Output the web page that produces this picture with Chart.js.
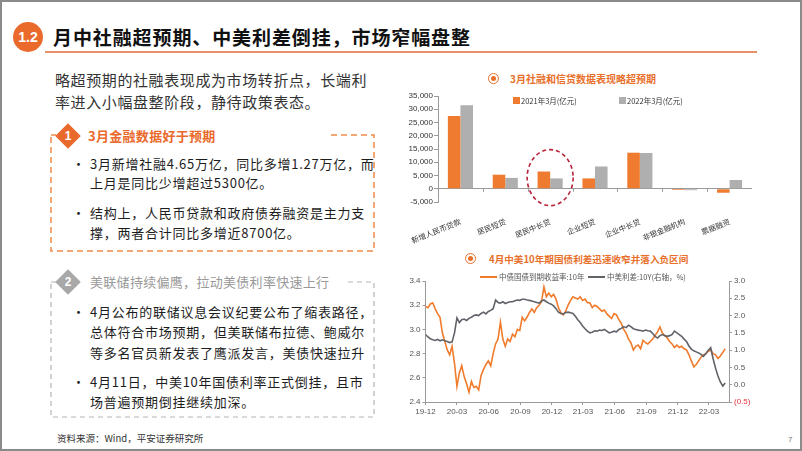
<!DOCTYPE html>
<html>
<head>
<meta charset="utf-8">
<script src="https://cdn.jsdelivr.net/npm/chart.js@4.4.1/dist/chart.umd.min.js"></script>
<style>
html, body { margin: 0; padding: 0; background: #fff; }
#slide { position: relative; width: 802px; height: 451px; overflow: hidden; background: #fff;
  font-family: "Noto Sans CJK SC", "Noto Sans", sans-serif; color: #1d1d1d; }
#frame { position: absolute; left: 0; top: 0; width: 802px; height: 451px; box-sizing: border-box;
  border: 2px solid #8a8a8a; pointer-events: none; z-index: 20; }
.abs { position: absolute; white-space: nowrap; }
.body13 { font-size: 13px; line-height: 16px; letter-spacing: 0.75px; }
.num { font-family: "Liberation Sans", Arial, sans-serif; }
.diamond { position: absolute; width: 18px; height: 18px; transform: rotate(45deg); }
.dnum { position: absolute; width: 20px; text-align: center; color: #fff; font: 700 12px "Liberation Sans", Arial; line-height: 14px; }
.icon { position: absolute; width: 9px; height: 9px; border: 1.5px solid #E8702A; border-radius: 50%; }
.icon::after { content: ""; position: absolute; left: 2px; top: 2px; width: 5px; height: 5px; border-radius: 50%; background: #E8702A; }
.ctitle { color: #E8702A; font-weight: 700; }
.leg { font-size: 7.5px; line-height: 9px; color: #333; }
canvas { position: absolute; }
</style>
</head>
<body>
<div id="slide">
  <!-- heading -->
  <div class="abs num" style="left:13px;top:22px;width:30px;height:30px;border-radius:50%;background:#EA6A2C;color:#fff;font-weight:700;font-size:14px;line-height:30px;text-align:center;">1.2</div>
  <div class="abs" style="left:53px;top:26px;font-size:19px;line-height:21px;font-weight:700;letter-spacing:0.9px;color:#111;">月中社融超预期、中美利差倒挂，市场窄幅盘整</div>
  <div class="abs" style="left:45px;top:51px;width:712px;height:2px;background:#E8906A;"></div>

  <div class="abs" style="left:55px;top:72px;font-size:15px;line-height:16px;letter-spacing:0.6px;color:#333;">略超预期的社融表现成为市场转折点，长端利</div>
  <div class="abs" style="left:55px;top:94px;font-size:15px;line-height:16px;letter-spacing:0.6px;color:#333;">率进入小幅盘整阶段，静待政策表态。</div>

  <!-- dashed boxes -->
  <svg class="abs" style="left:0;top:0;" width="802" height="451">
    <rect x="51" y="135" width="323" height="116" fill="none" stroke="#F08A4B" stroke-width="1.5" stroke-dasharray="6 4"/>
    <rect x="51" y="282" width="323" height="135" fill="none" stroke="#B5B5B5" stroke-width="1.2" stroke-dasharray="5 4"/>
  </svg>

  <!-- box 1 -->
  <div class="abs" style="left:56px;top:127px;width:272px;height:17px;background:#fff;"></div>
  <div class="diamond" style="left:59px;top:127px;background:#EA6A2C;"></div>
  <div class="dnum" style="left:58px;top:129px;">1</div>
  <div class="abs" style="left:88px;top:128px;font-size:13px;line-height:16px;font-weight:700;letter-spacing:0.3px;color:#EA6A2C;">3月金融数据好于预期</div>
  <div class="abs body13" style="left:72px;top:156px;">•</div>
  <div class="abs body13" style="left:90px;top:156px;">3月新增社融4.65万亿，同比多增1.27万亿，而</div>
  <div class="abs body13" style="left:90px;top:175px;">上月是同比少增超过5300亿。</div>
  <div class="abs body13" style="left:72px;top:205px;">•</div>
  <div class="abs body13" style="left:90px;top:205px;">结构上，人民币贷款和政府债券融资是主力支</div>
  <div class="abs body13" style="left:90px;top:225px;">撑，两者合计同比多增近8700亿。</div>

  <!-- box 2 -->
  <div class="abs" style="left:56px;top:274px;width:291px;height:17px;background:#fff;"></div>
  <div class="diamond" style="left:59px;top:273px;background:#A8A8A8;"></div>
  <div class="dnum" style="left:58px;top:275px;">2</div>
  <div class="abs" style="left:90px;top:274px;font-size:13px;line-height:16px;letter-spacing:0.3px;color:#999;">美联储持续偏鹰，拉动美债利率快速上行</div>
  <div class="abs body13" style="left:72px;top:304px;">•</div>
  <div class="abs body13" style="left:90px;top:304px;">4月公布的联储议息会议纪要公布了缩表路径，</div>
  <div class="abs body13" style="left:90px;top:324px;">总体符合市场预期，但美联储布拉德、鲍威尔</div>
  <div class="abs body13" style="left:90px;top:345px;">等多名官员新发表了鹰派发言，美债快速拉升</div>
  <div class="abs body13" style="left:72px;top:374px;">•</div>
  <div class="abs body13" style="left:90px;top:374px;">4月11日，中美10年国债利率正式倒挂，且市</div>
  <div class="abs body13" style="left:90px;top:394px;">场普遍预期倒挂继续加深。</div>

  <div class="abs" style="left:57px;top:432px;font-size:9.5px;line-height:12px;color:#333;">资料来源：Wind，平安证券研究所</div>
  <div class="abs num" style="left:788px;top:435px;font-size:8px;line-height:10px;color:#777;">7</div>

  <!-- chart 1 -->
  <div class="icon" style="left:488px;top:73px;"></div>
  <div class="abs ctitle" style="left:510px;top:73px;font-size:10px;line-height:12px;">3月社融和信贷数据表现略超预期</div>
  <canvas id="loanChart" width="360" height="160" style="left:400px;top:86px;"></canvas>
  <div class="abs" style="left:513px;top:97px;width:7px;height:7px;background:#EE7B30;z-index:3;"></div>
  <div class="abs leg" style="left:521px;top:96px;z-index:3;" id="leg1a"></div>
  <div class="abs" style="left:619px;top:97px;width:7px;height:7px;background:#AFAFAF;z-index:3;"></div>
  <div class="abs leg" style="left:627px;top:96px;z-index:3;" id="leg1b"></div>

  <!-- chart 2 -->
  <div class="icon" style="left:465px;top:253px;"></div>
  <div class="abs ctitle" style="left:489px;top:253px;font-size:9.6px;line-height:12px;">4月中美10年期国债利差迅速收窄并落入负区间</div>
  <canvas id="rateChart" width="362" height="148" style="left:398px;top:270px;"></canvas>
  <div class="abs" style="left:480px;top:276px;width:17px;height:2px;background:#F07B2C;z-index:3;"></div>
  <div class="abs leg" style="left:499px;top:272px;color:#555;z-index:3;" id="leg2a"></div>
  <div class="abs" style="left:588px;top:276px;width:17px;height:2px;background:#606368;z-index:3;"></div>
  <div class="abs leg" style="left:607px;top:272px;color:#555;z-index:3;" id="leg2b"></div>

  <div id="frame"></div>
</div>

<script>
// Bar chart data (亿元)
const barCategories = ['新增人民币贷款', '居民短贷', '居民中长贷', '企业短贷', '企业中长贷', '非银金融机构', '票据融资'];
const barSeriesNames = ['2021年3月(亿元)', '2022年3月(亿元)'];
const loans2021 = [27500, 5300, 6500, 3900, 13600, -450, -1500];
const loans2022 = [31500, 4100, 3900, 8400, 13500, -550, 3300];
const circledCategory = '居民中长贷';
const circledLevel = 4200;

// Line chart data: weekly readings from 2019-12-01
const lineSeriesNames = ['中债国债到期收益率:10年', '中美利差:10Y(右轴，%)'];
const startDate = '2019-12-01';
const endDate = '2022-04-28';
const weekStep = 7;
const quarterLabels = ['19-12', '20-03', '20-06', '20-09', '20-12', '21-03', '21-06', '21-09', '21-12', '22-03'];
const cnYield10y = [
  3.19, 3.18, 3.21, 3.22, 3.17, 3.13, 3.10, 2.97, 2.90, 2.83,
  2.79, 2.86, 2.72, 2.53, 2.64, 2.70, 2.61, 2.55, 2.48, 2.57,
  2.52, 2.53, 2.50, 2.62, 2.67, 2.71, 2.74, 2.70, 2.80, 2.88,
  2.92, 3.06, 2.92, 2.86, 2.92, 2.90, 2.96, 2.94, 3.00, 2.99,
  3.10, 3.07, 3.10, 3.14, 3.17, 3.14, 3.18, 3.20, 3.23, 3.35,
  3.27, 3.30, 3.27, 3.29, 3.25, 3.18, 3.14, 3.12, 3.15, 3.20,
  3.24, 3.27, 3.26, 3.25, 3.27, 3.24, 3.25, 3.22, 3.22, 3.18,
  3.20, 3.19, 3.17, 3.15, 3.16, 3.13, 3.11, 3.09, 3.13, 3.12,
  3.08, 3.05, 3.00, 2.97, 2.92, 2.89, 2.83, 2.86, 2.87, 2.84,
  2.91, 2.89, 2.88, 2.90, 2.92, 2.95, 2.98, 3.02, 2.97, 2.95,
  2.93, 2.90, 2.88, 2.85, 2.87, 2.85, 2.86, 2.84, 2.83, 2.79,
  2.74, 2.69, 2.71, 2.74, 2.77, 2.79, 2.80, 2.82, 2.83, 2.80,
  2.79, 2.76, 2.78, 2.81, 2.84
];
const cnUsSpread = [
  1.45, 1.38, 1.33, 1.30, 1.28, 1.31, 1.27, 1.30, 1.27, 1.25,
  1.22, 1.24, 1.50, 1.93, 1.80, 1.88, 1.90, 1.86, 1.92, 1.95,
  2.00, 2.02, 2.00, 2.06, 2.10, 2.05, 2.12, 2.15, 2.20, 2.45,
  2.38, 2.36, 2.40, 2.35, 2.38, 2.40, 2.40, 2.43, 2.45, 2.44,
  2.47, 2.47, 2.45, 2.44, 2.42, 2.40, 2.38, 2.36, 2.42, 2.45,
  2.40, 2.36, 2.33, 2.28, 2.20, 2.10, 2.06, 2.05, 2.09, 2.10,
  2.08, 2.06, 1.98, 1.88, 1.80, 1.70, 1.62, 1.55, 1.50, 1.52,
  1.56, 1.55, 1.58, 1.57, 1.60, 1.55, 1.50, 1.52, 1.55, 1.53,
  1.60, 1.63, 1.68, 1.65, 1.72, 1.68, 1.62, 1.60, 1.58, 1.57,
  1.55, 1.58, 1.56, 1.55, 1.48, 1.40, 1.35, 1.42, 1.45, 1.42,
  1.40, 1.42, 1.45, 1.55, 1.50, 1.45, 1.40, 1.32, 1.25, 1.12,
  1.03, 0.98, 0.95, 0.92, 0.88, 0.82, 0.90, 1.00, 1.07, 0.75,
  0.48, 0.25, 0.08, -0.04, 0.05
];

const ORANGE = '#EE7B30';
const GREY_BAR = '#AFAFAF';
const LINE_ORANGE = '#F07B2C';
const LINE_GREY = '#606368';
const AXIS = '#9a9a9a';
const tickFont = { family: '"Liberation Sans", Arial, sans-serif', size: 8 };

Chart.defaults.animation = false;
Chart.defaults.font.family = '"Noto Sans CJK SC", "Liberation Sans", sans-serif';

function dayOf(s) {
  return Math.round((Date.parse(s) - Date.parse(startDate)) / 86400000);
}

// Legends (html, placed inside the plot like the original)
document.getElementById('leg1a').innerText = barSeriesNames[0];
document.getElementById('leg1b').innerText = barSeriesNames[1];
document.getElementById('leg2a').innerText = lineSeriesNames[0];
document.getElementById('leg2b').innerText = lineSeriesNames[1];

// dashed ring round one category + small ticks on the zero line
const highlightPlugin = {
  id: 'highlight',
  afterDatasetsDraw(chart) {
    const { ctx, scales: { x, y } } = chart;
    const zero = y.getPixelForValue(0);
    ctx.save();
    ctx.strokeStyle = AXIS;
    ctx.lineWidth = 1;
    for (let i = 1; i < barCategories.length; i++) {
      const px = Math.round((x.getPixelForValue(i - 1) + x.getPixelForValue(i)) / 2) + 0.5;
      ctx.beginPath();
      ctx.moveTo(px, zero);
      ctx.lineTo(px, zero + 3);
      ctx.stroke();
    }
    const cx = x.getPixelForValue(barCategories.indexOf(circledCategory));
    const cy = y.getPixelForValue(circledLevel);
    ctx.strokeStyle = '#B8233A';
    ctx.lineWidth = 1.6;
    ctx.setLineDash([4, 3]);
    ctx.beginPath();
    ctx.ellipse(cx, cy, 23, 28, 0, 0, Math.PI * 2);
    ctx.stroke();
    ctx.restore();
  }
};

function initLoanChart() {
  new Chart(document.getElementById('loanChart'), {
    type: 'bar',
    data: {
      labels: barCategories,
      datasets: [
        { label: barSeriesNames[0], data: loans2021, backgroundColor: ORANGE },
        { label: barSeriesNames[1], data: loans2022, backgroundColor: GREY_BAR }
      ]
    },
    options: {
      responsive: false,
      layout: { padding: { top: 10, right: 8, left: 0, bottom: 0 } },
      datasets: { bar: { categoryPercentage: 0.56, barPercentage: 1 } },
      plugins: { legend: { display: false }, tooltip: { enabled: false } },
      scales: {
        x: {
          grid: { display: false },
          border: { display: false },
          ticks: { color: '#333', font: { size: 7.5 }, minRotation: 22, maxRotation: 22, padding: 7, autoSkip: false },
          afterFit: s => { s.height = 44; }
        },
        y: {
          min: -5000, max: 35000,
          ticks: { stepSize: 5000, color: '#333', font: tickFont, padding: 1,
            callback: v => v.toLocaleString('en-US') },
          grid: { drawTicks: true, tickLength: 4, tickColor: AXIS,
            color: c => c.tick && c.tick.value === 0 ? AXIS : 'transparent' },
          border: { display: true, color: AXIS },
          afterFit: s => { s.width = 38; }
        }
      }
    },
    plugins: [highlightPlugin]
  });
}

function initRateChart() {
  const quarterDays = quarterLabels.map(l => dayOf('20' + l.slice(0, 2) + '-' + l.slice(3) + '-01'));
  const toPoints = arr => arr.map((v, i) => ({ x: i * weekStep, y: v }));
  new Chart(document.getElementById('rateChart'), {
    type: 'line',
    data: {
      datasets: [
        { label: lineSeriesNames[0], data: toPoints(cnYield10y), yAxisID: 'y', borderColor: LINE_ORANGE,
          borderWidth: 1.6, pointRadius: 0, tension: 0, order: 1 },
        { label: lineSeriesNames[1], data: toPoints(cnUsSpread), yAxisID: 'y2', borderColor: LINE_GREY,
          borderWidth: 1.6, pointRadius: 0, tension: 0, order: 0 }
      ]
    },
    options: {
      responsive: false,
      layout: { padding: { top: 11, right: 0, left: 0, bottom: 0 } },
      plugins: { legend: { display: false }, tooltip: { enabled: false } },
      scales: {
        x: {
          type: 'linear', min: 0, max: dayOf(endDate),
          afterBuildTicks: s => { s.ticks = quarterDays.map(v => ({ value: v })); },
          ticks: { autoSkip: false, maxRotation: 0, color: '#555', font: tickFont, padding: 2,
            callback: (v, i) => quarterLabels[i] },
          grid: { drawOnChartArea: false, tickLength: 3, color: AXIS },
          border: { color: AXIS },
          afterFit: s => { s.height = 16; }
        },
        y: {
          position: 'left', min: 2.4, max: 3.4,
          ticks: { stepSize: 0.2, color: '#555', font: tickFont, padding: 2, callback: v => v.toFixed(1) },
          grid: { drawOnChartArea: false, tickLength: 3, color: AXIS },
          border: { color: AXIS },
          afterFit: s => { s.width = 27.5; }
        },
        y2: {
          position: 'right', min: -0.5, max: 3.0,
          ticks: { stepSize: 0.5, font: tickFont, padding: 2,
            color: c => c.tick && c.tick.value < 0 ? '#E0303A' : '#555',
            callback: v => v < 0 ? '(' + Math.abs(v).toFixed(1) + ')' : v.toFixed(1) },
          grid: { drawOnChartArea: false, tickLength: 3, color: AXIS },
          border: { color: AXIS },
          afterFit: s => { s.width = 31; }
        }
      }
    }
  });
}

initLoanChart();
initRateChart();
</script>
</body>
</html>
